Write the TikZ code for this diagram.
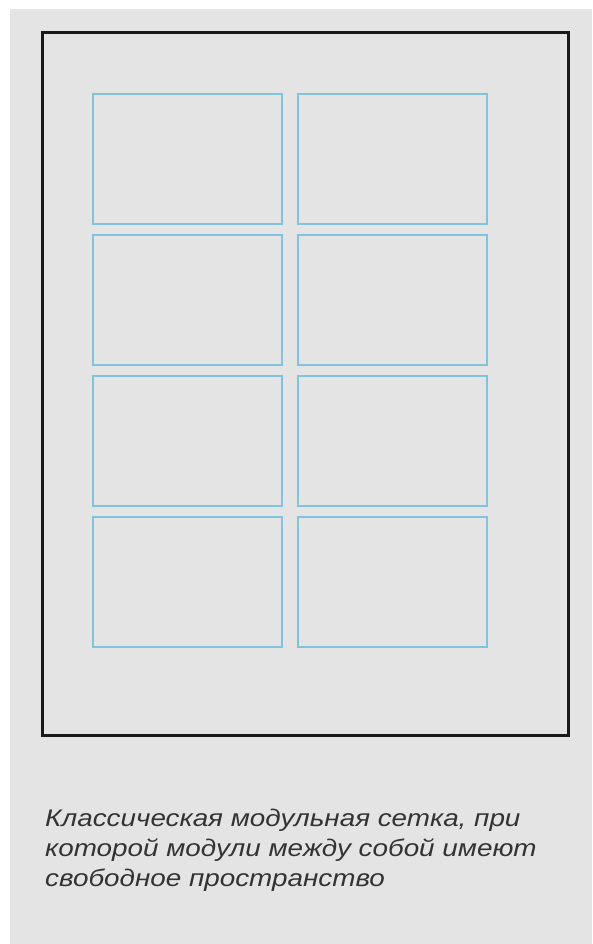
\documentclass[tikz,border=0pt]{standalone}
\usepackage{fontspec}
\setmainfont{Liberation Sans}
\newfontfamily\captionfont[FakeStretch=1.16]{Liberation Sans}
\usepackage{tikz}
\usetikzlibrary{positioning}
\usepackage{xcolor}
\definecolor{pagegray}{HTML}{E4E4E4}
\definecolor{gridblue}{HTML}{7EC4DE}

\begin{document}
\begin{tikzpicture}[x=1pt, y=-1pt,
    frame/.style={draw=black!90, line width=3pt},
    module/.style={rectangle, draw=gridblue, line width=1.2pt, minimum width=189pt, minimum height=130pt, inner sep=0pt},
    caption/.style={font=\captionfont\fontsize{24}{30}\selectfont\itshape, text=black!80, align=left, anchor=base west, inner sep=0pt}]
\useasboundingbox (0,0) rectangle (592,944);
\fill[white] (0,0) rectangle (592,944);
\fill[pagegray] (10,9) rectangle (592,944);
\draw[frame] (42,33) rectangle (568,735);
\node[module] (m11) at (187.5,159) {};
\node[module] (m12) at (392.5,159) {};
\node[module] (m21) at (187.5,300) {};
\node[module] (m22) at (392.5,300) {};
\node[module] (m31) at (187.5,441) {};
\node[module] (m32) at (392.5,441) {};
\node[module] (m41) at (187.5,582) {};
\node[module] (m42) at (392.5,582) {};
% the base anchor sits on the last line
\node[caption] (note) at (45,886) {Классическая модульная сетка, при\\которой модули между собой имеют\\свободное пространство};
\end{tikzpicture}
\end{document}
